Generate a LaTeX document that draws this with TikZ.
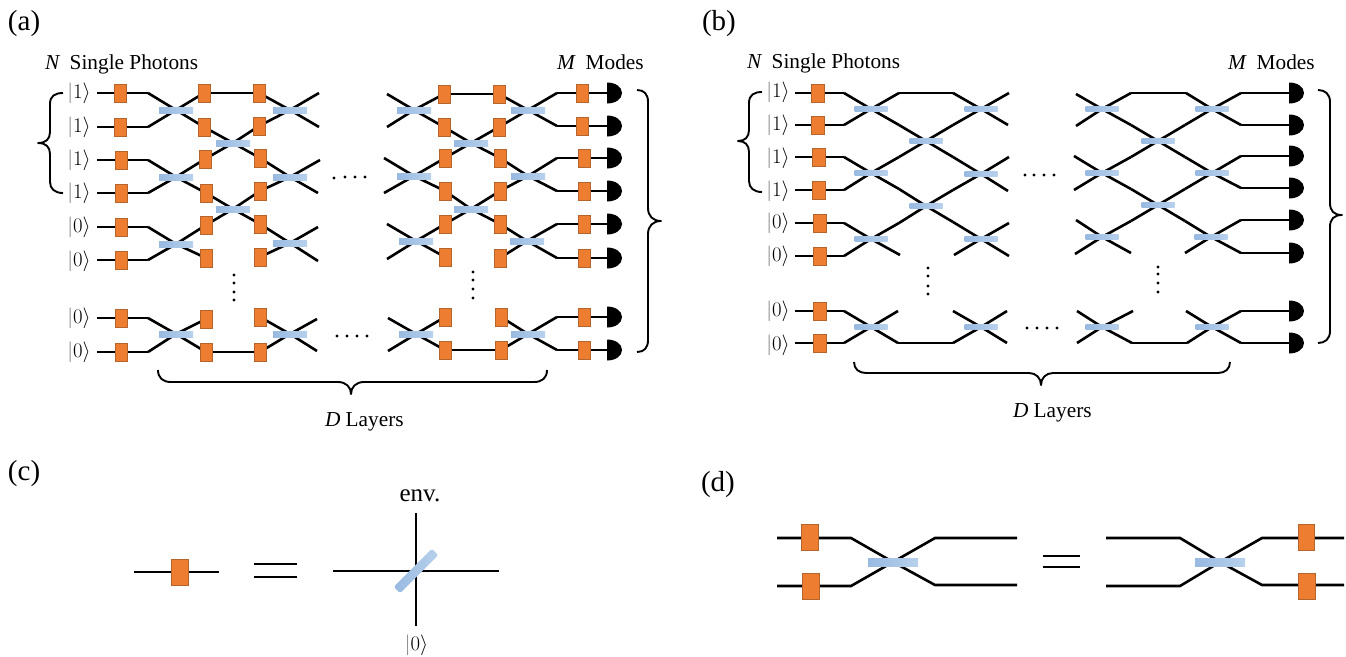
\documentclass[tikz,border=0pt]{standalone}
\usepackage{fontspec}
\setmainfont{Liberation Serif}
\pgfdeclarelayer{wires}
\pgfsetlayers{wires,main}
\definecolor{psfill}{HTML}{ED7D31}
\definecolor{psedge}{HTML}{B5642B}
\definecolor{bsleft}{HTML}{98B9E1}
\definecolor{bsright}{HTML}{B8D1EC}
\tikzset{
  wire/.style={line width=2.6pt,black},
  bracepath/.style={line width=1.9pt,black,line join=round},
  ps/.style={rectangle,fill=psfill,draw=psedge,line width=1pt,inner sep=0pt,outer sep=0pt,minimum width=12pt,minimum height=18pt},
  psb/.style={ps,minimum width=13pt},
  psbig/.style={ps,minimum width=17pt,minimum height=26pt},
  bs/.style={rectangle,left color=bsleft,right color=bsright,draw=none,inner sep=0pt,outer sep=0pt,minimum width=34pt,minimum height=6pt},
  bsbig/.style={bs,minimum width=50pt,minimum height=8pt},
  pt/.style={coordinate},
  lab/.style={inner sep=0pt,outer sep=0pt,font=\fontsize{29}{32}\selectfont,anchor=base west},
  txt/.style={inner sep=0pt,outer sep=0pt,font=\fontsize{21.3}{24}\selectfont,anchor=base west},
  ketlab/.style={inner sep=0pt,outer sep=0pt,font=\fontsize{21}{24}\selectfont},
}
\newcommand\plc[3]{\foreach \n/\x/\y in {#3}{\node[#1] (#2\n) at (\x,\y) {};}}
\newcommand\kets[2]{\foreach \n/\x/\y/\v in {#2}{\node[ketlab] (#1\n) at (\x,\y) {\myket{\v}};}}
\newcommand\myket[1]{$\textcolor{black!55}{|}#1\rangle$}
\newcommand\dets[3]{\foreach \n/\x/\y in {#3}{%
  \node[pt] (#2\n) at (\x,\y) {};
  \fill[black] (#2\n) ++(0,-10.5) .. controls +(8.5,0) and +(0,-6) .. ++(#1,10.5)
     .. controls +(0,6) and +(8.5,0) .. ++(-#1,10.5) -- cycle;}}
\newcommand\dotlist[1]{\foreach \x/\y in {#1}{\fill[black] (\x,\y) circle[radius=1.7];}}
% #1 beam splitter prefix, #2 left ends, #3 first column, #4 second column, #5 right ends
\newcommand\layerwires[5]{%
  \foreach \i/\j/\k in {1/2/1,3/4/2,5/6/3,7/8/4}{
    \draw[wire] (#2\i.center)--(#11\k.center)--(#3\j.center);
    \draw[wire] (#2\j.center)--(#11\k.center)--(#3\i.center);
    \draw[wire] (#4\i.center)--(#13\k.center)--(#5\j.center);
    \draw[wire] (#4\j.center)--(#13\k.center)--(#5\i.center);
  }
  \draw[wire] (#32.center)--(#121.center)--(#43.center);
  \draw[wire] (#33.center)--(#121.center)--(#42.center);
  \draw[wire] (#34.center)--(#122.center)--(#45.center);
  \draw[wire] (#35.center)--(#122.center)--(#44.center);
  \draw[wire] (#31.center)--(#41.center);
  \draw[wire] (#38.center)--(#48.center);
}
\newcommand\rowwires[3]{\foreach \i in {1,...,8}{\draw[wire] (#1\i.center)--(#2\i.center)--(#3\i.center);}}
\begin{document}
\begin{tikzpicture}[x=1pt,y=-1pt]
\useasboundingbox (0,0) rectangle (1346,656);
%%%%%%%%%% panel (a)
\node[lab] (la) at (8,30) {(a)};
\node[txt] (tan) at (45,69) {\textit{N}\hspace{9.5pt}Single Photons};
\node[txt] (tam) at (557,69) {\textit{M}\hspace{10pt}Modes};
\node[txt] (tad) at (325,426) {\textit{D} Layers};
\kets{ka}{1/79/93/1,2/79/127/1,3/79/160/1,4/79/193/1,5/79/227/0,6/79/261/0,7/79/318/0,8/79/352/0}
\plc{pt}{ast}{1/97/93,2/97/127,3/97/160,4/97/193,5/97/227,6/97/260,7/97/318,8/97/352}
\plc{pt}{af}{1/148/93,2/148/127,3/148/160,4/148/193,5/148/227,6/148/260,7/148/318,8/148/352}
\plc{ps}{ain}{1/120/93,2/120/127,3/121/160,4/121/193,5/121/227,6/121/260,7/121/318,8/121/352}
\plc{ps}{ap}{1/204/93,2/204/127,3/205/159,4/206/193,5/206/225,6/206/258,7/206/319,8/206/352}
\plc{ps}{aq}{1/259/93,2/259/126,3/260/158,4/260/191,5/260/224,6/260/257,7/260/317,8/260/352}
\plc{pt}{ae}{1/319/93,2/319/127,3/320/160,4/318/193,5/318/227,6/318/261,7/317/319,8/317/351}
\plc{bs}{al}{11/176/110,12/176/177,13/176/244,14/176/334,21/233/143,22/233/209,31/290/110,32/290/177,33/290/243,34/290/334}
\plc{pt}{ag}{1/387/94,2/387/127,3/384/158,4/384/193,5/387/224,6/387/259,7/388/318,8/388/351}
\plc{ps}{ar}{1/444/94,2/444/127,3/445/158,4/445/191,5/445/224,6/445/257,7/445/317,8/445/350}
\plc{ps}{as}{1/499/94,2/499/127,3/500/158,4/500/191,5/500/224,6/500/258,7/501/317,8/501/350}
\plc{bs}{am}{11/414/110,12/414/176,13/416/241,14/416/334,21/471/143,22/471/209,31/528/110,32/528/176,33/527/241,34/528/334}
\plc{pt}{ah}{1/557/93,2/557/126,3/557/158,4/557/191,5/557/224,6/557/258,7/557/317,8/557/350}
\plc{ps}{aout}{1/582/93,2/582/126,3/584/158,4/584/191,5/584/224,6/584/258,7/584/317,8/584/350}
\dets{15}{adet}{1/607/93,2/607/126,3/607/158,4/607/191,5/607/224,6/607/258,7/607/317,8/607/350}
\begin{pgfonlayer}{wires}
  \rowwires{ast}{ain}{af}
  \layerwires{al}{af}{ap}{aq}{ae}
  \layerwires{am}{ag}{ar}{as}{ah}
  \rowwires{ah}{aout}{adet}
\end{pgfonlayer}
\dotlist{334/178,345/177,355/177,365/177,337/336,347/336,357/336,367/336,234/275,234/283,234/292,234/300,473/272,473/280,473/289,473/298}
\draw[bracepath] (63,93) .. controls (55,93) and (50,96) .. (50,104) -- (50,132) .. controls (50,139) and (46,143) .. (38,143) .. controls (46,143) and (50,147) .. (50,154) -- (50,182) .. controls (50,189) and (55,193) .. (63,193);
\draw[bracepath] (637,90) .. controls (644,90) and (648,94) .. (648,102) -- (648,208) .. controls (648,216) and (653,221) .. (661,221) .. controls (653,221) and (648,226) .. (648,234) -- (648,340) .. controls (648,348) and (644,352) .. (637,352);
\draw[bracepath] (158,370) .. controls (158,378) and (163,382) .. (171,382) -- (338,382) .. controls (346,382) and (351,387) .. (351,394) .. controls (351,387) and (356,382) .. (364,382) -- (534,382) .. controls (542,382) and (547,378) .. (547,370);
%%%%%%%%%% panel (b)
\node[lab] (lb) at (702,30) {(b)};
\node[txt] (tbn) at (747,68) {\textit{N}\hspace{9.5pt}Single Photons};
\node[txt] (tbm) at (1228,69) {\textit{M}\hspace{10pt}Modes};
\node[txt] (tbd) at (1013,417) {\textit{D} Layers};
\kets{kb}{1/778/92/1,2/778/125/1,3/778/158/1,4/778/191/1,5/778/223/0,6/778/256/0,7/778/311/0,8/778/345/0}
\plc{pt}{bst}{1/795/93,2/795/125,3/795/157,4/795/190,5/795/223,6/795/256,7/795/311,8/795/343}
\plc{pt}{bf}{1/844/93,2/844/125,3/844/157,4/844/190,5/844/223,6/844/256,7/844/311,8/844/343}
\plc{psb}{bin}{1/818/93,2/818/125,3/819/157,4/819/190,5/820/223,6/820/256,7/820/311,8/820/343}
\plc{pt}{bp}{1/899/93,2/899/125,3/899/157,4/899/189,5/899/223,6/900/255,7/898/311,8/898/343}
\plc{pt}{bq}{1/953/93,2/953/125,3/953/157,4/953/190,5/953/222,6/954/255,7/953/311,8/953/343}
\plc{pt}{be}{1/1009/93,2/1008/125,3/1009/157,4/1008/191,5/1009/223,6/1009/256,7/1007/311,8/1007/343}
\plc{bs,minimum width=33pt,minimum height=5pt}{bl}{11/871/109,12/871/173,13/871/239,14/871/327,21/926/141,22/926/206,31/981/109,32/981/174,33/981/239,34/981/327}
\plc{pt}{bg}{1/1076/94,2/1076/126,3/1074/156,4/1074/190,5/1076/220,6/1075/254,7/1077/311,8/1077/343}
\plc{pt}{bu}{1/1131/93,2/1131/125,3/1131/157,4/1131/189,5/1131/221,6/1131/253,7/1133/311,8/1132/343}
\plc{pt}{bv}{1/1186/93,2/1185/125,3/1185/157,4/1185/189,5/1185/221,6/1185/253,7/1186/311,8/1187/343}
\plc{pt}{bh}{1/1241/93,2/1241/125,3/1241/156,4/1241/188,5/1241/220,6/1241/253,7/1241/311,8/1241/343}
\plc{bs,minimum width=33pt,minimum height=5pt}{br}{11/1102/109,12/1102/173,13/1102/237,14/1102/327,21/1158/141,22/1158/205,31/1212/109,32/1212/173,33/1211/237,34/1212/327}
\dets{15}{bdet}{1/1289/93,2/1289/125,3/1289/156,4/1289/188,5/1289/220,6/1289/253,7/1289/311,8/1289/343}
\begin{pgfonlayer}{wires}
  \rowwires{bst}{bin}{bf}
  \layerwires{bl}{bf}{bp}{bq}{be}
  \layerwires{br}{bg}{bu}{bv}{bh}
  \foreach \i in {1,...,8}{\draw[wire] (bh\i.center)--(bdet\i.center);}
\end{pgfonlayer}
\dotlist{1025/175,1034/175,1044/175,1054/175,1027/328,1037/328,1047/328,1057/328,928/268,928/276,928/286,928/294,1158/267,1158/274,1158/283,1158/292}
\draw[bracepath] (762,92) .. controls (754,92) and (749,95) .. (749,103) -- (749,130) .. controls (749,137) and (745,141) .. (738,141) .. controls (745,141) and (749,145) .. (749,152) -- (749,181) .. controls (749,188) and (754,192) .. (762,192);
\draw[bracepath] (1318,90) .. controls (1325,90) and (1330,94) .. (1330,102) -- (1330,203) .. controls (1330,211) and (1334,215) .. (1342,215) .. controls (1334,215) and (1330,219) .. (1330,227) -- (1330,331) .. controls (1330,339) and (1325,343) .. (1318,343);
\draw[bracepath] (854,362) .. controls (854,369) and (859,373) .. (866,373) -- (1029,373) .. controls (1036,373) and (1041,378) .. (1041,385) .. controls (1041,378) and (1046,373) .. (1053,373) -- (1218,373) .. controls (1225,373) and (1230,369) .. (1230,362);
%%%%%%%%%% panel (c)
\node[lab] (lc) at (8,480) {(c)};
\node[psbig] (cps) at (180,572) {};
\node[pt] (cw) at (134,572) {};
\node[pt] (ce) at (219,572) {};
\node[pt] (eq1a) at (254,564) {};
\node[pt] (eq1b) at (297,564) {};
\node[pt] (eq2a) at (254,577) {};
\node[pt] (eq2b) at (297,577) {};
\node[bs,rotate=45,minimum width=54pt,minimum height=9pt,rounded corners=1.5pt] (cbs) at (416,571) {};
\node[pt] (cl) at (333,571) {};
\node[pt] (cr) at (499,571) {};
\node[pt] (ct) at (416,513) {};
\node[pt] (cb) at (416,626) {};
\node[inner sep=0pt,outer sep=0pt,font=\fontsize{25}{28}\selectfont,anchor=base] (cenv) at (420,501) {env.};
\node[ketlab] (ck) at (416.5,645) {\myket{0}};
\begin{pgfonlayer}{wires}
  \draw[wire] (cw)--(cps);
  \draw[wire] (cps)--(ce);
  \draw[wire] (eq1a)--(eq1b);
  \draw[wire] (eq2a)--(eq2b);
  \draw[wire] (cl)--(cr);
  \draw[wire] (ct)--(cb);
\end{pgfonlayer}
%%%%%%%%%% panel (d)
\node[lab] (ld) at (701,491) {(d)};
\node[psbig] (dp1) at (810,537) {};
\node[psbig] (dp2) at (811,586) {};
\node[bsbig] (dbs1) at (893,562) {};
\node[pt] (da1) at (777,538) {};
\node[pt] (da2) at (777,586) {};
\node[pt] (db1) at (851,538) {};
\node[pt] (db2) at (851,586) {};
\node[pt] (dc1) at (935,538) {};
\node[pt] (dc2) at (935,585) {};
\node[pt] (dd1) at (1017,538) {};
\node[pt] (dd2) at (1017,585) {};
\node[pt] (eq3a) at (1043,556) {};
\node[pt] (eq3b) at (1080,556) {};
\node[pt] (eq4a) at (1043,567) {};
\node[pt] (eq4b) at (1080,567) {};
\node[bsbig] (dbs2) at (1220,562) {};
\node[pt] (de1) at (1106,538) {};
\node[pt] (de2) at (1106,586) {};
\node[pt] (df1) at (1180,538) {};
\node[pt] (df2) at (1180,586) {};
\node[pt] (dg1) at (1262,538) {};
\node[pt] (dg2) at (1262,585) {};
\node[pt] (dh1) at (1344,538) {};
\node[pt] (dh2) at (1344,585) {};
\node[psbig,minimum width=16pt] (dp3) at (1306,537) {};
\node[psbig] (dp4) at (1307,586) {};
\begin{pgfonlayer}{wires}
  \draw[wire] (da1)--(db1)--(dbs1.center)--(dc2)--(dd2);
  \draw[wire] (da2)--(db2)--(dbs1.center)--(dc1)--(dd1);
  \draw[wire] (eq3a)--(eq3b);
  \draw[wire] (eq4a)--(eq4b);
  \draw[wire] (de1)--(df1)--(dbs2.center)--(dg2)--(dh2);
  \draw[wire] (de2)--(df2)--(dbs2.center)--(dg1)--(dh1);
\end{pgfonlayer}
\end{tikzpicture}
\end{document}
